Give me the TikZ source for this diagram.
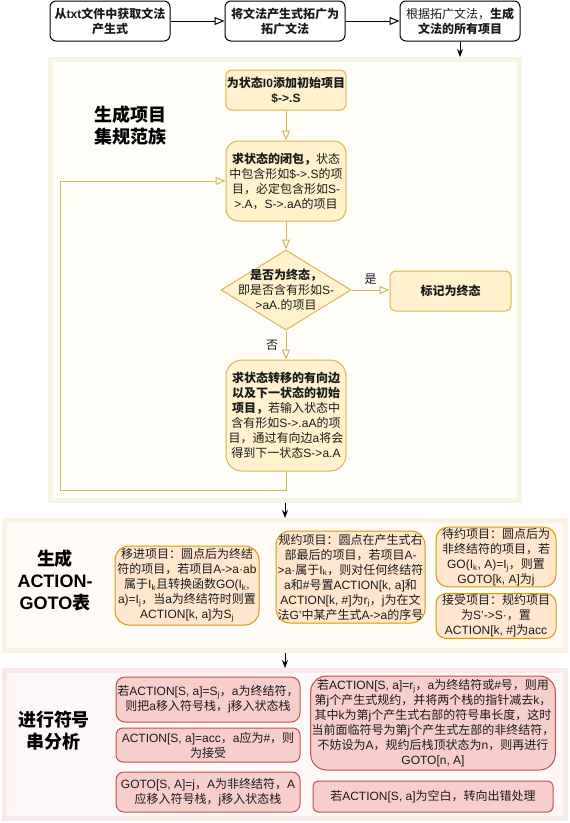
\documentclass[tikz,border=0pt]{standalone}
\usepackage{fontspec}
\setmainfont{Liberation Sans}
\newfontfamily\cjkfamily{Noto Sans CJK SC}
\XeTeXinterchartokenstate=1
\newXeTeXintercharclass\CJKclass
\makeatletter
\def\setcjkrange#1#2{\count@=#1\relax
  \loop \XeTeXcharclass\count@=\CJKclass \ifnum\count@<#2\relax \advance\count@ 1 \repeat}
\setcjkrange{"3000}{"303F}
\setcjkrange{"4E00}{"9FFF}
\setcjkrange{"FF00}{"FFEF}
\makeatother
\XeTeXinterchartoks 0 \CJKclass = {\cjkfamily}
\XeTeXinterchartoks 4095 \CJKclass = {\cjkfamily}
\XeTeXinterchartoks \CJKclass 0 = {\rmfamily}
\XeTeXinterchartoks \CJKclass 4095 = {\rmfamily}
\usetikzlibrary{arrows.meta,shapes.geometric}
\definecolor{yfill}{HTML}{FFF2CC}
\definecolor{ystroke}{HTML}{D6B656}
\definecolor{ofill}{HTML}{FFE6CC}
\definecolor{ostroke}{HTML}{D79B00}
\definecolor{rfill}{HTML}{F8CECC}
\definecolor{rstroke}{HTML}{B85450}
\definecolor{pAborder}{HTML}{F8F4E4}
\definecolor{pAfill}{HTML}{FFFDF8}
\definecolor{pBborder}{HTML}{FBF2E4}
\definecolor{pBfill}{HTML}{FFFBF6}
\definecolor{pCborder}{HTML}{F8E9E7}
\definecolor{pCfill}{HTML}{FDF8F7}
\definecolor{txt}{HTML}{1A1A1A}
\begin{document}
\begin{tikzpicture}[x=1pt,y=-1pt,
  font=\fontsize{12}{15}\selectfont, line width=1pt, text=txt,
  topbox/.style={draw=black, fill=white, rounded corners=6pt, minimum width=120pt, minimum height=40pt, align=center, inner sep=1pt, font=\fontsize{12}{15}\selectfont\bfseries},
  ybox/.style={draw=ystroke, fill=yfill, align=center, inner sep=1pt},
  obox/.style={draw=ostroke, fill=ofill, rounded corners=14pt, align=center, inner sep=1pt},
  rbox/.style={draw=rstroke, fill=rfill, align=center, inner sep=1pt},
  panel/.style={line width=5pt, inner sep=0pt},
  title/.style={align=center, font=\fontsize{18}{22}\selectfont\bfseries, text=black},
  openarrow/.style={-{Triangle[length=10pt,width=8pt,fill=white]}},
  yarrow/.style={draw=ystroke, -{Triangle[length=10pt,width=8pt,fill=white]}},
  blkarrow/.style={draw=black, -{Stealth[length=8pt,width=6pt]}},
  lbl/.style={font=\fontsize{12}{15}\selectfont, fill=none}
]
\useasboundingbox (0,0) rectangle (570,823);

% panels
\node[panel, draw=pAborder, fill=pAfill, minimum width=469pt, minimum height=441pt] (P1) at (285,280) {};
\node[panel, draw=pBborder, fill=pBfill, minimum width=561pt, minimum height=130pt] (P2) at (285,585.5) {};
\node[panel, draw=pCborder, fill=pCfill, minimum width=561pt, minimum height=148pt] (P3) at (285,744.5) {};

% top row
\node[topbox] (B1) at (110,21) {从txt文件中获取文法\\产生式};
\node[topbox] (B2) at (285,21) {将文法产生式拓广为\\拓广文法};
\node[topbox, font=\fontsize{12}{15}\selectfont] (B3) at (460,21) {根据拓广文法，\textbf{生成}\\\textbf{文法的所有项目}};
\draw[openarrow] (B1) -- (B2);
\draw[openarrow] (B2) -- (B3);
\draw[blkarrow] (B3.south) -- (B3.south |- P1.north);

% section 1
\node[title] (T1) at (130,126) {生成项目\\集规范族};
\node[ybox, rounded corners=6pt, minimum width=120pt, minimum height=40pt, font=\fontsize{12}{15}\selectfont\bfseries] (N1) at (286,90) {为状态I0添加初始项目\\\$->.S};
\node[ybox, rounded corners=12pt, minimum width=120pt, minimum height=80pt] (N2) at (286,181) {\textbf{求状态的闭包，}状态\\中包含形如\$->.S的项\\目，必定包含形如S-\\>.A，S->.aA的项目};
\node[ybox, diamond, minimum width=130pt, minimum height=80pt, inner sep=0pt,
  label={[align=center, text=txt]center:{\textbf{是否为终态，}\\即是否含有形如S-\\>aA.的项目}}] (D) at (286,290) {};
\node[ybox, rounded corners=6pt, minimum width=121pt, minimum height=40pt, font=\fontsize{12}{15}\selectfont\bfseries] (E) at (450.5,291) {标记为终态};
\node[ybox, rounded corners=16pt, minimum width=120pt, minimum height=111pt] (N4) at (286,415.5) {\textbf{求状态转移的有向边}\\\textbf{以及下一状态的初始}\\\textbf{项目，}若输入状态中\\含有形如S->.aA的项\\目，通过有向边a将会\\得到下一状态S->a.A};
\coordinate (L) at (60,490);
\draw[yarrow] (N1) -- (N2);
\draw[yarrow] (N2) -- (D);
\draw[yarrow] (D.east) -- node[lbl, above=2pt] {是} (E.west |- D.east);
\draw[yarrow] (D.south) -- node[lbl, left=4pt] {否} (N4.north);
\draw[yarrow] (N4.south) |- (L) |- (N2.west);

\draw[blkarrow] (P1.south) -- (P2.north);

% section 2
\node[title] (T2) at (55,580) {生成\\ACTION-\\GOTO表};
\node[obox, minimum width=144pt, minimum height=79pt] (M1) at (187,585.5) {移进项目：圆点后为终结\\符的项目，若项目A->a·ab\\属于I\textsubscript{k}且转换函数GO(I\textsubscript{k},\\a)=I\textsubscript{j}，当a为终结符时则置\\ACTION[k, a]为S\textsubscript{j}};
\node[obox, minimum width=149pt, minimum height=92pt] (M2) at (350.5,577) {规约项目：圆点在产生式右\\部最后的项目，若项目A-\\>a·属于I\textsubscript{k}，则对任何终结符\\a和\#号置ACTION[k, a]和\\ACTION[k, \#]为r\textsubscript{j}，j为在文\\法G'中某产生式A->a的序号};
\node[obox, rounded corners=12pt, minimum width=120pt, minimum height=58pt] (M3) at (496,557) {待约项目：圆点后为\\非终结符的项目，若\\GO(I\textsubscript{k}, A)=I\textsubscript{j}，则置\\GOTO[k, A]为j};
\node[obox, rounded corners=10pt, minimum width=120pt, minimum height=40pt] (M4) at (496,616) {接受项目：规约项目\\为S'->S·，置\\ACTION[k, \#]为acc};

\draw[blkarrow] (P2.south) -- (P3.north);

% section 3
\node[title] (T3) at (54,731) {进行符号\\串分析};
\node[rbox, rounded corners=9pt, minimum width=184pt, minimum height=45pt] (R1) at (208,699.5) {若ACTION[S, a]=S\textsubscript{j}，a为终结符，\\则把a移入符号栈，j移入状态栈};
\node[rbox, rounded corners=7pt, minimum width=184pt, minimum height=34pt] (R2) at (208,745) {ACTION[S, a]=acc，a应为\#，则\\为接受};
\node[rbox, rounded corners=8pt, minimum width=184pt, minimum height=40pt] (R3) at (208,792) {GOTO[S, A]=j，A为非终结符，A\\应移入符号栈，j移入状态栈};
\node[rbox, rounded corners=16pt, minimum width=244pt, minimum height=94pt] (R4) at (433,723) {若ACTION[S, a]=r\textsubscript{j}，a为终结符或\#号，则用\\第j个产生式规约，并将两个栈的指针减去k，\\其中k为第j个产生式右部的符号串长度，这时\\当前面临符号为第j个产生式左部的非终结符，\\不妨设为A，规约后栈顶状态为n，则再进行\\GOTO[n, A]};
\node[rbox, rounded corners=5pt, minimum width=240pt, minimum height=31pt] (R5) at (433,796.5) {若ACTION[S, a]为空白，转向出错处理};
\end{tikzpicture}
\end{document}
